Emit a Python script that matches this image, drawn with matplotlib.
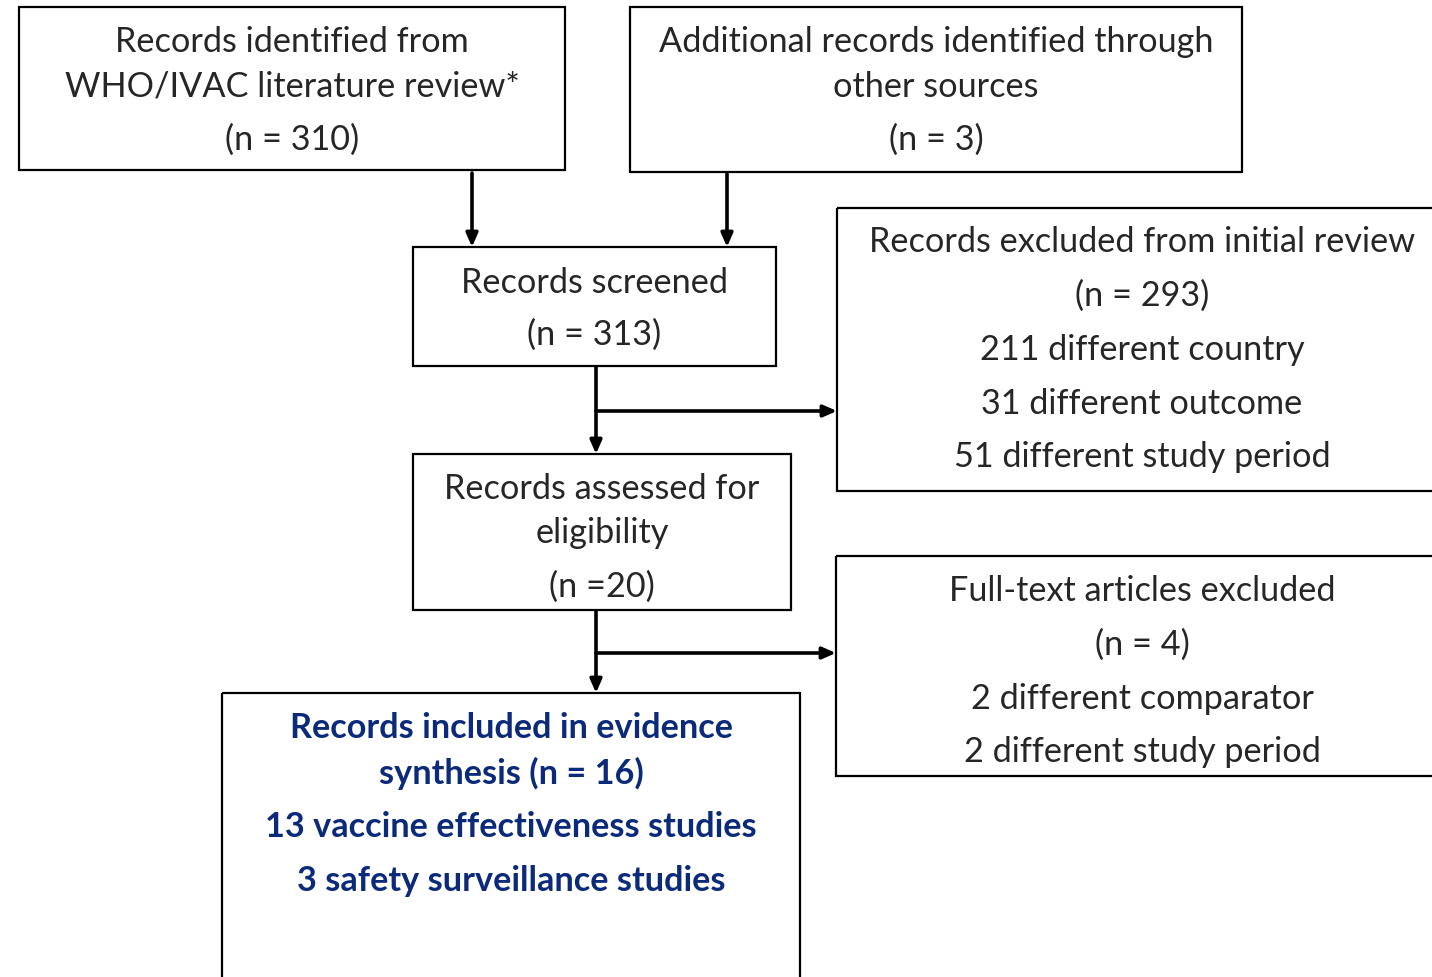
import matplotlib.pyplot as plt
from matplotlib.patches import Rectangle

plt.rcParams['font.family'] = ['Lato', 'DejaVu Sans']

# box texts (one string per line)
identified_lines = ['Records identified from', 'WHO/IVAC literature review*', '(n = 310)']
additional_lines = ['Additional records identified through', 'other sources', '(n = 3)']
screened_lines = ['Records screened', '(n = 313)']
excluded_lines = ['Records excluded from initial review', '(n = 293)',
                  '211 different country', '31 different outcome',
                  '51 different study period']
assessed_lines = ['Records assessed for', 'eligibility', '(n =20)']
fulltext_lines = ['Full-text articles excluded', '(n = 4)',
                  '2 different comparator', '2 different study period']
included_lines = ['Records included in evidence', 'synthesis (n = 16)',
                  '13 vaccine effectiveness studies', '3 safety surveillance studies']

W, H = 1432, 977
fig = plt.figure(figsize=(W / 100, H / 100), dpi=100)
ax = fig.add_axes([0, 0, 1, 1])
ax.set_xlim(0, W)
ax.set_ylim(H, 0)
ax.axis('off')

TXT = '#262626'
BLUE = '#0b2b7a'


def box(x0, y0, x1, y1, lines, ys, cx=None, color=TXT, weight='normal'):
    ax.add_patch(Rectangle((x0, y0), x1 - x0, y1 - y0, fill=False,
                           edgecolor='black', linewidth=1.6))
    if cx is None:
        cx = (x0 + x1) / 2
    for s, y in zip(lines, ys):
        ax.text(cx, y + 2, s, ha='center', va='center', fontsize=24.7,
                color=color, fontweight=weight)


def arrow(x0, y0, x1, y1):
    ax.annotate('', xy=(x1, y1), xytext=(x0, y0),
                arrowprops=dict(arrowstyle='-|>,head_length=0.8,head_width=0.35',
                                color='black', lw=2.6, shrinkA=0, shrinkB=0))


box(19, 7, 565, 170, identified_lines, [40, 85, 138])
box(630, 7, 1242, 172, additional_lines, [40, 85, 138])
box(413, 247, 776, 366, screened_lines, [281, 333])
box(837, 208, 1460, 491, excluded_lines, [240, 294, 348, 402, 455], cx=1142)
box(413, 454, 791, 610, assessed_lines, [487, 531, 585])
box(836, 556, 1460, 776, fulltext_lines, [589, 643, 697, 750], cx=1142)
box(222, 693, 800, 1010, included_lines, [726, 771, 825, 879], cx=511,
    color=BLUE, weight='bold')

arrow(472, 173, 472, 247)
arrow(727, 173, 727, 247)
arrow(596, 367, 596, 454)
arrow(596, 411, 837, 411)
arrow(596, 611, 596, 693)
arrow(596, 653, 836, 653)

fig.savefig('out.png', dpi=100)
